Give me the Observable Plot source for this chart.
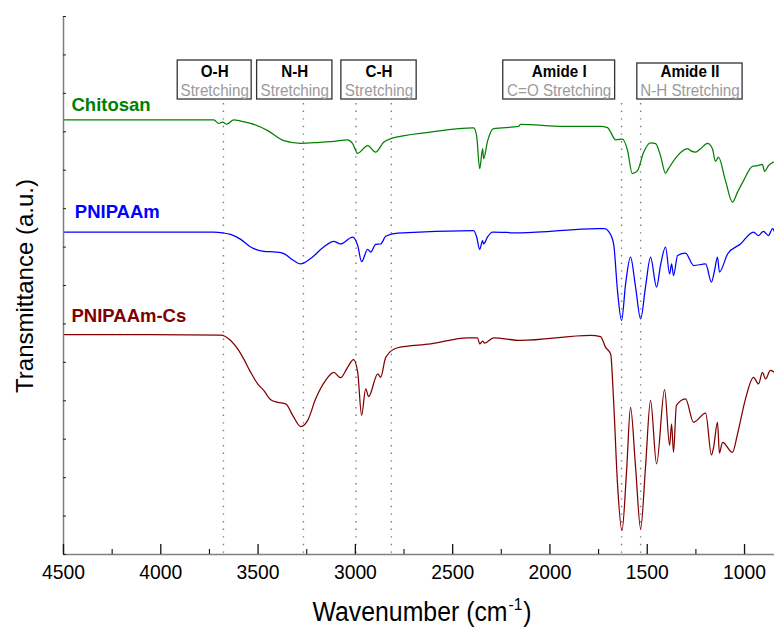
<!DOCTYPE html>
<html>
<head>
<meta charset="utf-8">
<script src="https://cdn.jsdelivr.net/npm/d3@7"></script>
<script src="https://cdn.jsdelivr.net/npm/@observablehq/plot@0.6"></script>
<style>
  html, body { margin: 0; padding: 0; background: #fff; }
  #chart { width: 774px; height: 629px; }
</style>
</head>
<body>
<div id="chart"></div>
<script>
// ---- Data ----
const seriesNames = ["Chitosan", "PNIPAAm", "PNIPAAm-Cs"];
const seriesColors = ["#008000", "#0000ff", "#800000"];

const chitosanWn = [4500, 4051, 3728, 3702, 3682, 3661, 3625, 3589, 3538, 3450, 3368, 3281, 3194, 3111, 3040, 3014, 2988, 2937, 2896, 2855, 2819, 2613, 2392, 2377, 2361, 2346, 2341, 2320, 2290, 2161, 2151, 1930, 1740, 1704, 1688, 1663, 1627, 1601, 1577, 1550, 1519, 1483, 1457, 1432, 1406, 1391, 1344, 1293, 1278, 1252, 1226, 1190, 1165, 1149, 1134, 1098, 1062, 1036, 1005, 959, 933, 908, 897, 877, 851];
const chitosanT = [11.31, 11.31, 11.31, 11.22, 11.25, 11.20, 11.31, 11.28, 11.22, 11.03, 10.77, 10.70, 10.72, 10.75, 10.79, 10.69, 10.44, 10.64, 10.47, 10.73, 10.82, 10.99, 11.10, 10.90, 10.04, 10.56, 10.30, 10.77, 11.08, 11.14, 11.19, 11.14, 11.14, 11.11, 10.99, 10.79, 10.81, 10.51, 9.91, 9.99, 10.46, 10.71, 10.69, 10.38, 9.92, 10.04, 10.38, 10.56, 10.51, 10.47, 10.56, 10.70, 10.56, 10.23, 10.34, 9.73, 9.17, 9.43, 9.73, 10.10, 10.12, 10.15, 9.97, 10.12, 10.21];

const pnipaamWn = [4500, 4051, 3728, 3682, 3641, 3589, 3538, 3471, 3409, 3368, 3317, 3281, 3230, 3163, 3111, 3076, 3014, 2988, 2968, 2937, 2921, 2896, 2870, 2844, 2783, 2392, 2377, 2361, 2346, 2341, 2320, 2295, 2151, 1755, 1719, 1699, 1673, 1653, 1632, 1611, 1586, 1560, 1534, 1509, 1483, 1452, 1432, 1406, 1385, 1375, 1365, 1344, 1303, 1262, 1200, 1170, 1154, 1139, 1129, 1087, 1021, 954, 928, 903, 877, 856, 846];
const pnipaamT = [8.39, 8.39, 8.39, 8.37, 8.33, 8.20, 8.00, 7.89, 7.87, 7.83, 7.65, 7.56, 7.70, 8.00, 8.15, 8.08, 8.26, 8.04, 7.62, 7.94, 7.87, 8.07, 8.08, 8.28, 8.36, 8.43, 8.27, 7.94, 8.17, 8.08, 8.27, 8.39, 8.37, 8.48, 8.48, 8.41, 8.09, 6.87, 6.09, 7.05, 7.74, 6.96, 6.13, 6.96, 7.74, 6.96, 7.52, 8.00, 7.30, 7.56, 7.26, 7.78, 7.84, 7.52, 7.56, 7.09, 7.39, 7.74, 7.35, 7.82, 8.08, 8.39, 8.30, 8.41, 8.30, 8.48, 8.40];

const pnipaamCsWn = [4500, 4051, 3692, 3641, 3605, 3574, 3538, 3502, 3471, 3435, 3399, 3358, 3322, 3281, 3245, 3204, 3153, 3111, 3076, 3040, 3009, 2988, 2968, 2947, 2932, 2885, 2870, 2844, 2783, 2613, 2423, 2372, 2361, 2346, 2336, 2290, 2151, 1791, 1740, 1714, 1688, 1673, 1653, 1630, 1606, 1586, 1560, 1534, 1509, 1483, 1452, 1411, 1385, 1375, 1365, 1350, 1303, 1262, 1200, 1170, 1159, 1139, 1129, 1113, 1062, 1036, 995, 954, 928, 908, 892, 867, 846];
const pnipaamCsT = [5.72, 5.72, 5.71, 5.57, 5.35, 5.09, 4.74, 4.44, 4.27, 4.03, 3.96, 3.92, 3.62, 3.33, 3.49, 4.05, 4.53, 4.74, 4.60, 4.87, 5.07, 4.74, 3.62, 4.31, 4.11, 4.70, 4.61, 5.13, 5.38, 5.48, 5.64, 5.64, 5.48, 5.55, 5.50, 5.64, 5.57, 5.70, 5.67, 5.39, 5.22, 4.01, 1.85, 0.62, 2.19, 3.83, 2.27, 0.67, 2.27, 4.01, 2.36, 4.29, 2.84, 3.40, 2.66, 3.88, 4.05, 3.44, 3.68, 2.59, 2.79, 3.44, 2.64, 2.92, 2.66, 3.14, 4.05, 4.61, 4.44, 4.74, 4.57, 4.79, 4.74];

// Band assignments (dotted marker lines, cm-1)
const bandPeaks = [3678, 3267, 2997, 2815, 1632, 1534];
// Annotation boxes
const bandTitles = ["O-H", "N-H", "C-H", "Amide I", "Amide II"];
const bandSubtitles = ["Stretching", "Stretching", "Stretching", "C=O Stretching", "N-H Stretching"];
const bandBoxFrom = [3913, 3505, 3072, 2240, 1551];
const bandBoxTo = [3533, 3118, 2685, 1665, 1010];

// Series label anchors
const labelWn = [4459, 4442, 4459];
const labelT = [11.55, 8.75, 6.04];

// Axis ticks
const xMajorTicks = [4500, 4000, 3500, 3000, 2500, 2000, 1500, 1000];
const xTickLabels = ["4500", "4000", "3500", "3000", "2500", "2000", "1500", "1000"];
const xMinorTicks = [4250, 3750, 3250, 2750, 2250, 1750, 1250];
const yMinorTicks = [0, 1, 2, 3, 4, 5, 6, 7, 8, 9, 10, 11, 12, 13, 14];

// ---- Build tables ----
const wnSets = [chitosanWn, pnipaamWn, pnipaamCsWn];
const tSets = [chitosanT, pnipaamT, pnipaamCsT];
const spectra = seriesNames.map((name, i) =>
  wnSets[i].map((w, j) => ({series: name, w, t: tSets[i][j]}))
);
const bands = bandTitles.map((title, i) => ({
  title, sub: bandSubtitles[i], x1: bandBoxFrom[i], x2: bandBoxTo[i],
  xc: (bandBoxFrom[i] + bandBoxTo[i]) / 2
}));
const labels = seriesNames.map((name, i) => ({name, w: labelWn[i], t: labelT[i], color: seriesColors[i]}));
const xTicks = xMajorTicks.map((v, i) => ({v, label: xTickLabels[i]}));

const font = "'Liberation Sans', Arial, Helvetica, sans-serif";
const squeeze = 0.92; // the reference's lettering is slightly condensed

const chart = Plot.plot({
  width: 774,
  height: 629,
  marginLeft: 63,
  marginRight: 0,
  marginTop: 16,
  marginBottom: 75,
  x: {type: "linear", domain: [4500, 846], axis: null},
  y: {type: "linear", domain: [0, 14], axis: null},
  style: {fontFamily: font, background: "#fff", overflow: "visible"},
  marks: [
    // dotted band markers
    Plot.ruleX(bandPeaks, {stroke: "#7a7a7a", strokeWidth: 1.4, strokeDasharray: "1.4,6.2", insetTop: 87, insetBottom: -4}),
    // spectra
    ...spectra.map((rows, i) => Plot.line(rows, {x: "w", y: "t", stroke: seriesColors[i], strokeWidth: 1.25, curve: "monotone-x"})),
    // axes lines
    Plot.ruleY([0], {stroke: "#808080", strokeWidth: 1.5}),
    Plot.ruleX([4500], {stroke: "#808080", strokeWidth: 1.5}),
    // ticks (inward)
    Plot.ruleX(xMajorTicks, {stroke: "#111", strokeWidth: 1.3, insetTop: 528}),
    Plot.ruleX(xMinorTicks, {stroke: "#111", strokeWidth: 1.1, insetTop: 533}),
    Plot.ruleY(yMinorTicks, {stroke: "#222", strokeWidth: 1, insetRight: 708}),
    // tick labels
    Plot.text(xTicks, {x: "v", text: "label", frameAnchor: "bottom", dy: 24, fontSize: 21, fill: "#000"}),
    // annotation boxes
    Plot.rect(bands.slice(0, 4), {x1: "x1", x2: "x2", insetTop: 44, insetBottom: 455, fill: "#fff", stroke: "#333", strokeWidth: 1.3}),
    Plot.rect(bands.slice(4), {x1: "x1", x2: "x2", insetTop: 47, insetBottom: 455, fill: "#fff", stroke: "#333", strokeWidth: 1.3}),
    Plot.text(bands, {x: "xc", text: "title", frameAnchor: "top", dy: 60.7, lineAnchor: "bottom", fontSize: 16.5, fontWeight: "bold", fill: "#000"}),
    Plot.text(bands, {x: "xc", text: "sub", frameAnchor: "top", dy: 79, lineAnchor: "bottom", fontSize: 16.5, fill: "#9a9a9a"}),
    // series labels
    Plot.text(labels, {x: "w", y: "t", text: "name", fill: "color", textAnchor: "start", lineAnchor: "bottom", fontSize: 18.5, fontWeight: "bold"})
  ]
});

document.getElementById("chart").appendChild(chart);

const svg = d3.select(chart);

// condense lettering of tick labels and band boxes (not the series labels)
svg.selectAll("text").each(function() {
  if (seriesNames.includes(this.textContent)) return;
  const len = this.getComputedTextLength();
  if (len > 0) {
    this.setAttribute("textLength", (len * squeeze).toFixed(2));
    this.setAttribute("lengthAdjust", "spacingAndGlyphs");
  }
});

// x-axis title (condensed with a scale transform)
const xt = svg.append("text")
  .attr("transform", `translate(422,621) scale(${squeeze},1)`)
  .attr("text-anchor", "middle")
  .style("font-family", font).style("font-size", "27px").attr("fill", "#000");
xt.append("tspan").text("Wavenumber (cm");
xt.append("tspan").attr("dy", -11).attr("dx", 1).style("font-size", "17px").text("-1");
xt.append("tspan").attr("dy", 11).attr("dx", 1).text(")");

// y-axis title
svg.append("text")
  .attr("transform", "translate(33,286) rotate(-90)")
  .attr("text-anchor", "middle")
  .style("font-family", font).style("font-size", "24px").attr("fill", "#000")
  .text("Transmittance (a.u.)");
</script>
</body>
</html>
